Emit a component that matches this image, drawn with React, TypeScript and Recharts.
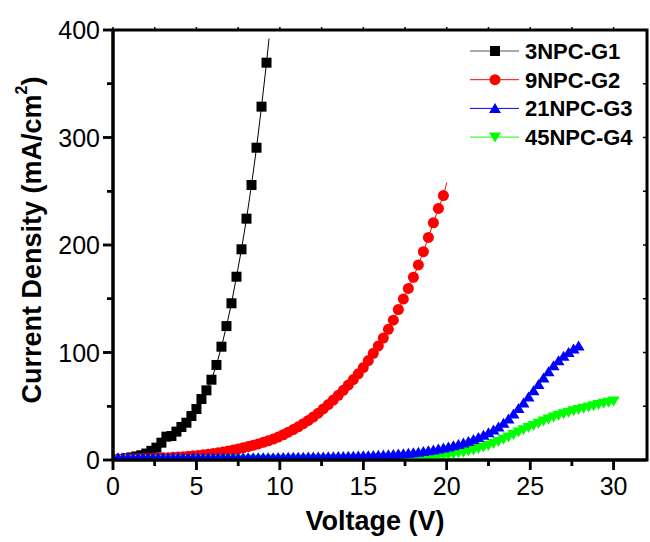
import { LineChart, Line, XAxis, YAxis } from 'recharts';

// 3NPC-G1 (black squares)
const g1Voltage = [
  0.2, 0.5, 0.8, 1.1, 1.4, 1.7, 2.0, 2.3, 2.6, 2.9,
  3.2, 3.5, 3.8, 4.1, 4.4, 4.7, 5.0, 5.3, 5.6, 5.9,
  6.2, 6.5, 6.8, 7.1, 7.4, 7.7, 8.0, 8.3, 8.6, 8.9,
  9.2,
];
const g1Current = [
  0.5, 1.0, 1.6, 2.4, 3.3, 4.4, 6.0, 8.5, 11.5, 16.1,
  21.7, 22.3, 26.4, 30.7, 34.7, 40.9, 47.4, 56.7, 64.8, 74.7,
  88.4, 105.4, 124.6, 145.8, 170.5, 196, 224.5, 255.8, 290.5, 328.7,
  369.6,
];
// end of the drawn guide line past the last marker
const g1LineEnd = { v: 9.35, j: 392 };

// 9NPC-G2 (red circles)
const g2Voltage = [
  0, 0.3, 0.6, 0.9, 1.2, 1.5, 1.8, 2.1, 2.4, 2.7,
  3, 3.3, 3.6, 3.9, 4.2, 4.5, 4.8, 5.1, 5.4, 5.7,
  6, 6.3, 6.6, 6.9, 7.2, 7.5, 7.8, 8.1, 8.4, 8.7,
  9, 9.3, 9.6, 9.9, 10.2, 10.5, 10.8, 11.1, 11.4, 11.7,
  12, 12.3, 12.6, 12.9, 13.2, 13.5, 13.8, 14.1, 14.4, 14.7,
  15, 15.3, 15.6, 15.9, 16.2, 16.5, 16.8, 17.1, 17.4, 17.7,
  18, 18.3, 18.6, 18.9, 19.2, 19.5, 19.8,
];
const g2Current = [
  1.0, 1.0, 1.1, 1.1, 1.2, 1.3, 1.4, 1.5, 1.6, 1.8,
  2.0, 2.2, 2.5, 2.8, 3.1, 3.5, 3.9, 4.3, 4.8, 5.4,
  6.0, 6.7, 7.5, 8.4, 9.3, 10.3, 11.4, 12.5, 13.7, 15.0,
  16.4, 17.9, 19.5, 21.3, 23.5, 25.9, 28.3, 30.9, 33.8, 36.8,
  40.0, 43.6, 47.5, 51.6, 55.8, 60.2, 64.8, 69.7, 74.8, 80.2,
  86.0, 92.5, 99.3, 106.1, 113.5, 121.6, 130.1, 140.0, 149.7, 159.6,
  170.0, 181.5, 193.8, 207.0, 220.7, 234.0, 246.0,
];
const g2LineEnd = { v: 20.0, j: 258 };

// 21NPC-G3 (blue up triangles)
const g3Voltage = [
  0, 0.3, 0.6, 0.9, 1.2, 1.5, 1.8, 2.1, 2.4, 2.7,
  3, 3.3, 3.6, 3.9, 4.2, 4.5, 4.8, 5.1, 5.4, 5.7,
  6, 6.3, 6.6, 6.9, 7.2, 7.5, 7.8, 8.1, 8.4, 8.7,
  9, 9.3, 9.6, 9.9, 10.2, 10.5, 10.8, 11.1, 11.4, 11.7,
  12, 12.3, 12.6, 12.9, 13.2, 13.5, 13.8, 14.1, 14.4, 14.7,
  15, 15.3, 15.6, 15.9, 16.2, 16.5, 16.8, 17.1, 17.4, 17.7,
  18, 18.3, 18.6, 18.9, 19.2, 19.5, 19.8, 20.1, 20.4, 20.7,
  21, 21.3, 21.6, 21.9, 22.2, 22.5, 22.8, 23.1, 23.4, 23.7,
  24, 24.3, 24.6, 24.9, 25.2, 25.5, 25.8, 26.1, 26.4, 26.7,
  27, 27.3, 27.6, 27.9,
];
const g3Current = [
  2.0, 2.0, 2.0, 2.0, 2.0, 2.0, 2.0, 2.0, 2.0, 2.0,
  2.0, 2.0, 2.0, 2.0, 2.0, 2.0, 2.0, 2.0, 2.0, 2.0,
  2.0, 2.0, 2.0, 2.0, 2.1, 2.1, 2.1, 2.1, 2.1, 2.1,
  2.2, 2.2, 2.2, 2.3, 2.4, 2.5, 2.5, 2.6, 2.6, 2.7,
  2.7, 2.8, 2.9, 3.0, 3.1, 3.2, 3.3, 3.4, 3.6, 3.7,
  3.9, 4.0, 4.2, 4.4, 4.7, 4.9, 5.2, 5.5, 5.9, 6.3,
  6.8, 7.3, 7.9, 8.6, 9.4, 10.3, 11.2, 12.2, 13.3, 14.5,
  15.8, 17.3, 19.0, 20.9, 23.0, 25.3, 27.9, 30.8, 34.2, 38.2,
  42.8, 47.8, 53.1, 58.6, 64.4, 70.3, 76.3, 82.2, 87.6, 92.4,
  96.6, 100.1, 103.2, 106.0,
];

// 45NPC-G4 (green down triangles)
const g4Voltage = [
  0, 0.3, 0.6, 0.9, 1.2, 1.5, 1.8, 2.1, 2.4, 2.7,
  3, 3.3, 3.6, 3.9, 4.2, 4.5, 4.8, 5.1, 5.4, 5.7,
  6, 6.3, 6.6, 6.9, 7.2, 7.5, 7.8, 8.1, 8.4, 8.7,
  9, 9.3, 9.6, 9.9, 10.2, 10.5, 10.8, 11.1, 11.4, 11.7,
  12, 12.3, 12.6, 12.9, 13.2, 13.5, 13.8, 14.1, 14.4, 14.7,
  15, 15.3, 15.6, 15.9, 16.2, 16.5, 16.8, 17.1, 17.4, 17.7,
  18, 18.3, 18.6, 18.9, 19.2, 19.5, 19.8, 20.1, 20.4, 20.7,
  21, 21.3, 21.6, 21.9, 22.2, 22.5, 22.8, 23.1, 23.4, 23.7,
  24, 24.3, 24.6, 24.9, 25.2, 25.5, 25.8, 26.1, 26.4, 26.7,
  27, 27.3, 27.6, 27.9, 28.2, 28.5, 28.8, 29.1, 29.4, 29.7,
  30,
];
const g4Current = [
  0.3, 0.3, 0.3, 0.3, 0.3, 0.3, 0.3, 0.3, 0.3, 0.3,
  0.3, 0.3, 0.3, 0.4, 0.4, 0.4, 0.4, 0.4, 0.5, 0.5,
  0.5, 0.5, 0.5, 0.6, 0.6, 0.6, 0.6, 0.7, 0.7, 0.7,
  0.7, 0.8, 0.8, 0.8, 0.8, 0.9, 0.9, 0.9, 1.0, 1.0,
  1.0, 1.0, 1.1, 1.1, 1.1, 1.2, 1.2, 1.2, 1.3, 1.3,
  1.3, 1.4, 1.5, 1.6, 1.7, 1.8, 1.9, 2.0, 2.2, 2.4,
  2.6, 2.8, 3.0, 3.3, 3.5, 3.8, 4.3, 4.9, 5.6, 6.4,
  7.3, 8.3, 9.4, 10.6, 12.0, 13.6, 15.3, 17.2, 19.2, 21.4,
  23.7, 26.0, 28.2, 30.2, 32.2, 34.2, 36.2, 38.1, 39.9, 41.5,
  43.0, 44.5, 45.8, 47.0, 48.2, 49.4, 50.5, 51.6, 52.7, 53.7,
  54.8,
];

const xTicks = [0, 2.5, 5, 7.5, 10, 12.5, 15, 17.5, 20, 22.5, 25, 27.5, 30];
const xMajor = [0, 5, 10, 15, 20, 25, 30];
const yTicks = [0, 50, 100, 150, 200, 250, 300, 350, 400];
const yMajor = [0, 100, 200, 300, 400];
const xMax = 32;
const yMax = 400;

// layout
const W = 650;
const H = 542;
const LEFT = 113;
const TOP = 30;
const RIGHT = 647;
const BOTTOM = 460;

const FONT = '"Liberation Sans", Arial, sans-serif';

const toPoints = (v: number[], j: number[], end?: { v: number; j: number }) => {
  const pts: any[] = v.map((x, i) => ({ v: x, j: j[i] }));
  if (end) pts.push({ v: end.v, j: end.j, lineOnly: true });
  return pts;
};

const g1Data = toPoints(g1Voltage, g1Current, g1LineEnd);
const g2Data = toPoints(g2Voltage, g2Current, g2LineEnd);
const g3Data = toPoints(g3Voltage, g3Current);
const g4Data = toPoints(g4Voltage, g4Current);

const square = (cx: number, cy: number, color: string, key?: any) => (
  <rect key={key} x={cx - 5} y={cy - 5} width={10} height={10} fill={color} />
);
const circle = (cx: number, cy: number, color: string, key?: any) => (
  <circle key={key} cx={cx} cy={cy} r={5.5} fill={color} />
);
const triUp = (cx: number, cy: number, color: string, key?: any) => (
  <polygon key={key} points={`${cx},${cy - 5.5} ${cx - 6},${cy + 4.5} ${cx + 6},${cy + 4.5}`} fill={color} />
);
const triDown = (cx: number, cy: number, color: string, key?: any) => (
  <polygon key={key} points={`${cx},${cy + 5.5} ${cx - 6},${cy - 4.5} ${cx + 6},${cy - 4.5}`} fill={color} />
);

const makeDot = (shape: typeof square, color: string) => (p: any) => {
  if (p.payload?.lineOnly || p.cx == null) return <g key={`e-${p.index}`} />;
  return shape(p.cx, p.cy, color, `d-${p.index}`);
};

const legendItems = [
  { name: '3NPC-G1', color: '#000000', line: '#555555', shape: square },
  { name: '9NPC-G2', color: '#ff0000', line: '#ff0000', shape: circle },
  { name: '21NPC-G3', color: '#0000ff', line: '#0000ff', shape: triUp },
  { name: '45NPC-G4', color: '#00ff00', line: '#00ff00', shape: triDown },
];

// frame-tick helpers for the top / right edges (plot box is fixed by the margins)
const px = (v: number) => LEFT + (v / xMax) * (RIGHT - LEFT);
const py = (j: number) => BOTTOM - (j / yMax) * (BOTTOM - TOP);

// tickSize is 1 and tickMargin 0, so the axis line sits 1px from x / y
function LeftTick(props: any) {
  const { x, y, payload } = props;
  const ax = x + 1;
  const major = yMajor.includes(payload.value);
  return (
    <g>
      <path d={`M${ax},${y}H${ax - (major ? 10 : 6)}`} stroke="#000" strokeWidth={2.5} fill="none" />
      {major && (
        <text x={ax - 13} y={y} dy="0.36em" textAnchor="end" fontSize={25} fontFamily={FONT} fill="#000">
          {payload.value}
        </text>
      )}
    </g>
  );
}

function BottomTick(props: any) {
  const { x, y, payload } = props;
  const ay = y - 1;
  const major = xMajor.includes(payload.value);
  return (
    <g>
      <path d={`M${x},${ay}V${ay + (major ? 10 : 6)}`} stroke="#000" strokeWidth={2.5} fill="none" />
      {major && (
        <text x={x} y={ay + 35} textAnchor="middle" fontSize={25} fontFamily={FONT} fill="#000">
          {payload.value}
        </text>
      )}
    </g>
  );
}

export default function App() {
  return (
    <div style={{ position: 'absolute', left: 0, top: 0, width: W, height: H, background: '#fff' }}>
      <LineChart width={W} height={H} margin={{ top: TOP, right: W - RIGHT, bottom: 0, left: 0 }}>
        <XAxis
          xAxisId="b"
          dataKey="v"
          type="number"
          domain={[0, xMax]}
          ticks={xTicks}
          interval={0}
          allowDataOverflow
          height={H - BOTTOM}
          tickLine={false}
          tickSize={1}
          tickMargin={0}
          axisLine={{ stroke: '#000', strokeWidth: 3 }}
          tick={<BottomTick />}
        />
        <YAxis
          yAxisId="l"
          type="number"
          domain={[0, yMax]}
          ticks={yTicks}
          interval={0}
          allowDataOverflow
          width={LEFT}
          tickLine={false}
          tickSize={1}
          tickMargin={0}
          axisLine={{ stroke: '#000', strokeWidth: 3 }}
          tick={<LeftTick />}
        />
        <Line
          xAxisId="b"
          yAxisId="l"
          data={g1Data}
          dataKey="j"
          type="linear"
          stroke="#000"
          strokeWidth={1}
          dot={makeDot(square, '#000')}
          activeDot={false}
          isAnimationActive={false}
        />
        <Line
          xAxisId="b"
          yAxisId="l"
          data={g2Data}
          dataKey="j"
          type="linear"
          stroke="#ff0000"
          strokeWidth={1}
          dot={makeDot(circle, '#ff0000')}
          activeDot={false}
          isAnimationActive={false}
        />
        <Line
          xAxisId="b"
          yAxisId="l"
          data={g4Data}
          dataKey="j"
          type="linear"
          stroke="#00ff00"
          strokeWidth={1}
          dot={makeDot(triDown, '#00ff00')}
          activeDot={false}
          isAnimationActive={false}
        />
        <Line
          xAxisId="b"
          yAxisId="l"
          data={g3Data}
          dataKey="j"
          type="linear"
          stroke="#0000ff"
          strokeWidth={1}
          dot={makeDot(triUp, '#0000ff')}
          activeDot={false}
          isAnimationActive={false}
        />
      </LineChart>
      <svg width={W} height={H} style={{ position: 'absolute', left: 0, top: 0, pointerEvents: 'none' }}>
        {/* plot frame with the small ticks on the top and right edges */}
        <rect x={LEFT} y={TOP} width={RIGHT - LEFT} height={BOTTOM - TOP} fill="none" stroke="#000" strokeWidth={3} />
        {xTicks.map((t) => (
          <g key={`x${t}`}>
            <path d={`M${px(t)},${BOTTOM}V${BOTTOM + (xMajor.includes(t) ? 10 : 6)}`} stroke="#000" strokeWidth={2.5} />
            <path d={`M${px(t)},${TOP}V${TOP - 3}`} stroke="#000" strokeWidth={1.5} />
          </g>
        ))}
        {yTicks.map((t) => (
          <g key={`y${t}`}>
            <path d={`M${LEFT},${py(t)}H${LEFT - (yMajor.includes(t) ? 10 : 6)}`} stroke="#000" strokeWidth={2.5} />
            <path d={`M${RIGHT},${py(t)}H${RIGHT - 4}`} stroke="#000" strokeWidth={1.5} />
          </g>
        ))}
        <text
          x={32}
          y={240}
          transform="rotate(-90 32 240)"
          textAnchor="middle"
          dominantBaseline="central"
          fontSize={27}
          fontWeight="bold"
          fontFamily={FONT}
          fill="#000"
        >
          Current Density (mA/cm<tspan fontSize={16} dy={-11}>2</tspan>
          <tspan dy={11}>)</tspan>
        </text>
        <text x={375} y={530} textAnchor="middle" fontSize={27} fontWeight="bold" fontFamily={FONT} fill="#000">
          Voltage (V)
        </text>
        {legendItems.map((item, i) => {
          const cy = 51 + i * 28.7;
          return (
            <g key={item.name}>
              <line x1={470} x2={519} y1={cy} y2={cy} stroke={item.line} strokeWidth={1} />
              {item.shape(495, cy, item.color)}
              <text x={525} y={cy} dy="0.36em" fontSize={22} fontWeight="bold" fontFamily={FONT} fill="#000">
                {item.name}
              </text>
            </g>
          );
        })}
      </svg>
    </div>
  );
}
